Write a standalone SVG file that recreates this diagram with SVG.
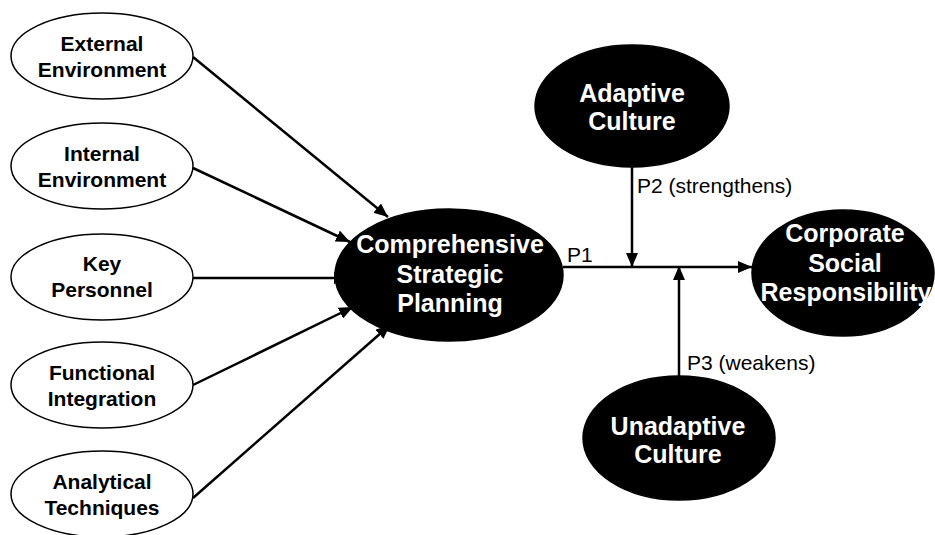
<svg xmlns="http://www.w3.org/2000/svg" width="935" height="535" viewBox="0 0 935 535">
<defs>
<marker id="arr" markerUnits="userSpaceOnUse" markerWidth="14" markerHeight="12" refX="14" refY="6" orient="auto">
<path d="M0,0 L14,6 L0,12 z" fill="#000"/>
</marker>
<style>
.edge{stroke:#000;stroke-width:2.5;fill:none}
.wn ellipse{fill:#fff;stroke:#000;stroke-width:1.5}
.bn ellipse{fill:#000;stroke:#000;stroke-width:1.5}
.wn text{font-family:"Liberation Sans",Arial,sans-serif;font-weight:bold;font-size:21px;fill:#000;text-anchor:middle}
.bn text{font-family:"Liberation Sans",Arial,sans-serif;font-weight:bold;font-size:25px;fill:#fff;text-anchor:middle}
.lbl{font-family:"Liberation Sans",Arial,sans-serif;font-size:21px;fill:#000}
</style>
</defs>
<rect width="935" height="535" fill="#fff"/>
<g id="connectors">
<line class="edge" x1="193" y1="57" x2="388" y2="217" marker-end="url(#arr)"/>
<line class="edge" x1="193" y1="168" x2="350" y2="242" marker-end="url(#arr)"/>
<line class="edge" x1="193" y1="278" x2="348" y2="278" marker-end="url(#arr)"/>
<line class="edge" x1="193" y1="385" x2="353" y2="307" marker-end="url(#arr)"/>
<line class="edge" x1="193" y1="498" x2="390" y2="325" marker-end="url(#arr)"/>
<line class="edge" x1="563" y1="267" x2="752" y2="267" marker-end="url(#arr)"/>
<line class="edge" x1="632" y1="167" x2="632" y2="267" marker-end="url(#arr)"/>
<line class="edge" x1="679" y1="377" x2="679" y2="266" marker-end="url(#arr)"/>
<text class="lbl" x="567" y="262">P1</text>
<text class="lbl" x="637" y="193">P2 (strengthens)</text>
<text class="lbl" x="687" y="370">P3 (weakens)</text>
</g>
<g id="external" class="wn"><ellipse cx="102" cy="56" rx="91" ry="43"/><text x="102" y="51">External</text><text x="102" y="77">Environment</text></g>
<g id="internal" class="wn"><ellipse cx="102" cy="166" rx="91" ry="43"/><text x="102" y="161">Internal</text><text x="102" y="187">Environment</text></g>
<g id="key" class="wn"><ellipse cx="102" cy="277" rx="91" ry="43"/><text x="102" y="271">Key</text><text x="102" y="297">Personnel</text></g>
<g id="functional" class="wn"><ellipse cx="102" cy="385" rx="91" ry="43"/><text x="102" y="380">Functional</text><text x="102" y="406">Integration</text></g>
<g id="analytical" class="wn"><ellipse cx="102" cy="494" rx="91" ry="43"/><text x="102" y="489">Analytical</text><text x="102" y="515">Techniques</text></g>
<g id="csp" class="bn"><ellipse cx="449" cy="275" rx="114" ry="66"/><text x="450" y="253">Comprehensive</text><text x="450" y="283">Strategic</text><text x="450" y="312">Planning</text></g>
<g id="adaptive" class="bn"><ellipse cx="632" cy="106" rx="97" ry="61"/><text x="632" y="102">Adaptive</text><text x="632" y="130">Culture</text></g>
<g id="unadaptive" class="bn"><ellipse cx="679" cy="438" rx="96" ry="62"/><text x="678" y="435">Unadaptive</text><text x="678" y="463">Culture</text></g>
<g id="csr" class="bn"><ellipse cx="843" cy="273" rx="91" ry="63"/><text x="845" y="242">Corporate</text><text x="845" y="272">Social</text><text x="846" y="301">Responsibility</text></g>
</svg>
